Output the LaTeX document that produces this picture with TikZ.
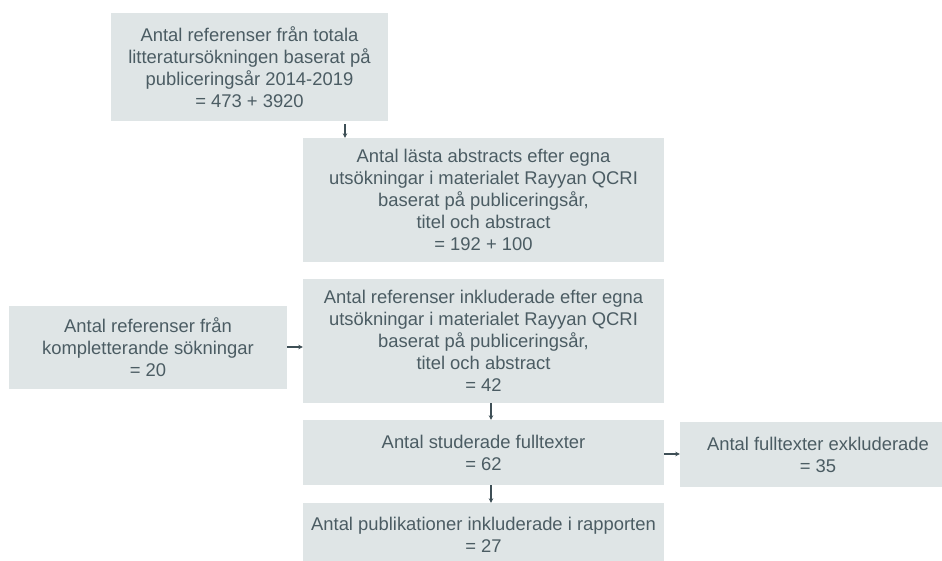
\documentclass[tikz,border=0pt]{standalone}
\usepackage{fontspec}
\setmainfont{Liberation Sans}
\usetikzlibrary{arrows.meta}
\definecolor{boxfill}{HTML}{DFE5E6}
\definecolor{boxtext}{HTML}{4B5C63}
\definecolor{arrowc}{HTML}{3E4F56}
\begin{document}
\begin{tikzpicture}[x=1pt,y=-1pt,
  box/.style={fill=boxfill, text=boxtext, align=center, inner sep=0pt,
    font=\fontsize{18.4}{22}\selectfont},
  arr/.style={draw=arrowc, line width=1.1pt, -{Stealth[length=4.5pt,width=4.5pt]}}]
\useasboundingbox (0,0) rectangle (942,560);
\clip (0,0) rectangle (942,560);
\fill[white] (0,0) rectangle (942,560);

\node[box, minimum width=277pt, minimum height=108pt] (b1) at (249.5,67)
  {Antal referenser från totala\\litteratursökningen baserat på\\publiceringsår 2014-2019\\= 473 + 3920};
\node[box, minimum width=361pt, minimum height=124pt] (b2) at (483.5,200)
  {Antal lästa abstracts efter egna\\utsökningar i materialet Rayyan QCRI\\baserat på publiceringsår,\\titel och abstract\\= 192 + 100};
\node[box, minimum width=361pt, minimum height=124pt] (b3) at (483.5,341)
  {Antal referenser inkluderade efter egna\\utsökningar i materialet Rayyan QCRI\\baserat på publiceringsår,\\titel och abstract\\= 42};
\node[box, minimum width=278pt, minimum height=83pt] (bl) at (148,347)
  {Antal referenser från\\kompletterande sökningar\\= 20};
\node[box, minimum width=361pt, minimum height=65pt] (b4) at (483.5,452.5)
  {Antal studerade fulltexter\\= 62};
\node[box, minimum width=276pt, minimum height=65pt] (br) at (818,454.5)
  {Antal fulltexter exkluderade\\= 35};
\node[box, minimum width=361pt, minimum height=64pt] (b5) at (483.5,535)
  {Antal publikationer inkluderade i rapporten\\= 27};

\draw[arr, shorten <=3pt] ([xshift=95.5pt]b1.south) -- ([xshift=95.5pt]b1.south |- b2.north);
\draw[arr] (bl.east) -- (bl.east -| b3.west);
\draw[arr] ([xshift=7.5pt]b3.south) -- ([xshift=7.5pt]b4.north);
\draw[arr] ([xshift=7.5pt]b4.south) -- ([xshift=7.5pt]b5.north);
\draw[arr] ([yshift=-1.5pt]b4.east) -- ([yshift=-1.5pt]b4.east -| br.west);
\end{tikzpicture}
\end{document}
